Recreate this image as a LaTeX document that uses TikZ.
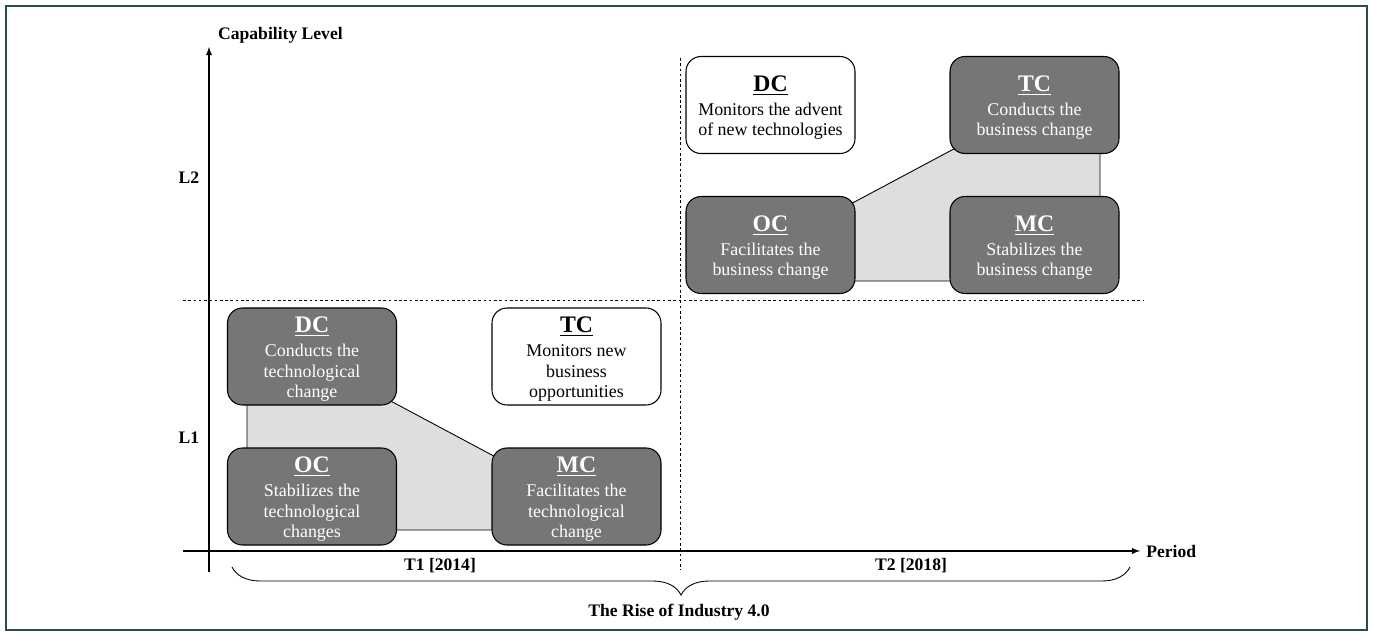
\documentclass[tikz,border=0pt]{standalone}
\usepackage{fontspec}
\setmainfont{Liberation Serif}
\usetikzlibrary{decorations.pathreplacing}
\definecolor{framegreen}{RGB}{36,82,58}
\definecolor{boxgray}{RGB}{118,118,118}
\definecolor{zonegray}{RGB}{222,222,222}
\tikzset{
  capbox/.style={draw=black, line width=0.6pt, rounded corners=0.3cm, minimum width=3.38cm, minimum height=1.94cm, align=center, inner sep=2pt, font=\fontsize{10.2}{11.6}\selectfont},
  activebox/.style={capbox, fill=boxgray, text=white},
  watchbox/.style={capbox, fill=white, text=black},
  zone/.style={draw=black, fill=zonegray, line width=0.5pt},
  axislabel/.style={font=\fontsize{10}{12}\selectfont\bfseries},
  guide/.style={dash pattern=on 1.5pt off 1.5pt, line width=0.5pt},
}
\newcommand{\captitle}[1]{{\fontsize{13.5}{15}\selectfont\bfseries\rule{0pt}{12pt}\underline{#1}}\\[2pt]}
\begin{document}
\begin{tikzpicture}
    \useasboundingbox (0,0) rectangle (27.46,12.72);
    \draw[framegreen, line width=1.1pt] (0.12,0.12) rectangle (27.34,12.60);
    % shaded zones
    \draw[zone] (4.94,4.92) -- (7.40,4.92) -- (10.40,3.32) -- (10.40,2.12) -- (4.94,2.12) -- cycle;
    \draw[zone] (16.60,8.42) -- (19.60,10.02) -- (22.00,10.02) -- (22.00,7.10) -- (16.60,7.10) -- cycle;
    % guides
    \coordinate (hL) at (3.66,6.72);
    \coordinate (hR) at (22.86,6.72);
    \coordinate (vT) at (13.60,11.56);
    \coordinate (vB) at (13.60,1.32);
    \draw[guide] (hL) -- (hR);
    \draw[guide] (vT) -- (vB);
    % X axis
    \coordinate (xS) at (3.66,1.70);
    \coordinate (xE) at (22.80,1.70);
    \draw[-latex, line width=0.6pt] (xS) -- (xE) node[axislabel, anchor=west] (period) {Period};
    % Y axis
    \coordinate (yS) at (4.18,1.28);
    \coordinate (yE) at (4.18,11.78);
    \draw[-latex, line width=0.6pt] (yS) -- (yE);
    \node[axislabel, anchor=west] (caplevel) at (4.24,12.02) {Capability Level};
    \node[axislabel] (lvltwo) at (3.78,9.16) {L2};
    \node[axislabel] (lvlone) at (3.78,3.96) {L1};
    % level 1
    \node[activebox] (dcone) at (6.24,5.59) {\captitle{DC}Conducts the\\technological\\change};
    \node[activebox] (ocone) at (6.24,2.79) {\captitle{OC}Stabilizes the\\technological\\changes};
    \node[watchbox] (tcone) at (11.53,5.59) {\captitle{TC}Monitors new\\business\\opportunities};
    \node[activebox] (mcone) at (11.53,2.79) {\captitle{MC}Facilitates the\\technological\\change};
    % level 2
    \node[watchbox] (dctwo) at (15.41,10.62) {\captitle{DC}Monitors the advent\\of new technologies};
    \node[activebox] (tctwo) at (20.69,10.62) {\captitle{TC}Conducts the\\business change};
    \node[activebox] (octwo) at (15.41,7.82) {\captitle{OC}Facilitates the\\business change};
    \node[activebox] (mctwo) at (20.69,7.82) {\captitle{MC}Stabilizes the\\business change};
    % periods
    \coordinate (braceL) at (4.64,1.38);
    \coordinate (braceR) at (22.60,1.38);
    \draw[decorate, decoration={brace, mirror, amplitude=0.56cm}, line width=0.5pt] (braceL) -- (braceR);
    \node[axislabel] (tone) at (8.80,1.40) {T1 [2014]};
    \node[axislabel] (ttwo) at (18.22,1.40) {T2 [2018]};
    \node[axislabel] (rise) at (13.58,0.48) {The Rise of Industry 4.0};
\end{tikzpicture}
\end{document}
